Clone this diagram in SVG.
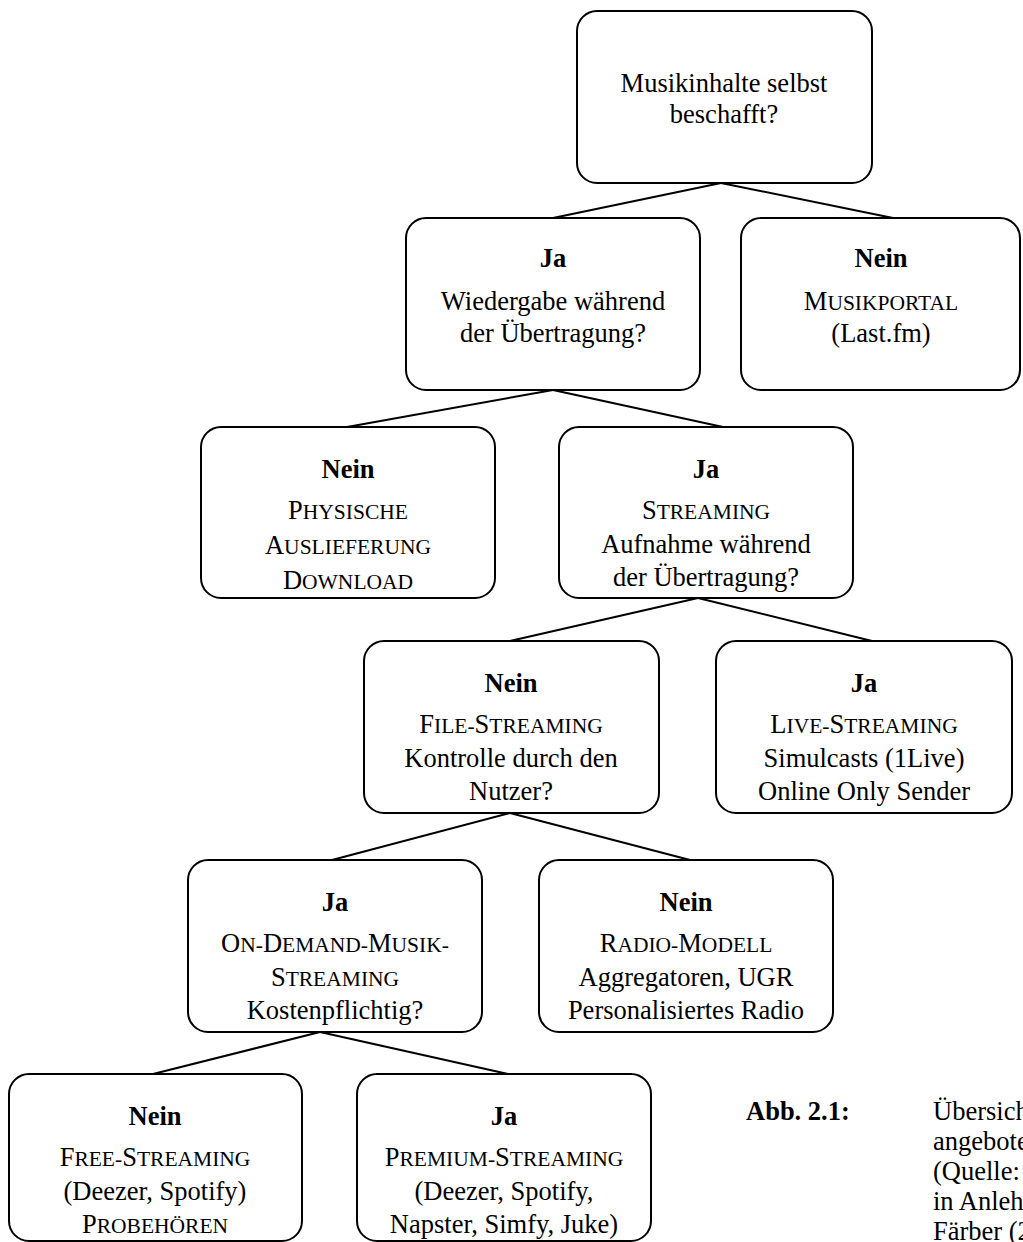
<svg xmlns="http://www.w3.org/2000/svg" width="1023" height="1242" viewBox="0 0 1023 1242">
<style>
.box{fill:#fff;stroke:#000;stroke-width:2}
.con line{stroke:#000;stroke-width:2}
text{font-family:"Liberation Serif","Times New Roman",serif;font-size:26.5px;fill:#000}
.c{text-anchor:middle}
.b{font-weight:bold}
.sc{font-size:21.5px}
</style>
<rect width="1023" height="1242" fill="#fff"/>
<g id="connectors" class="con">
<line x1="721" y1="183" x2="553" y2="218"/>
<line x1="721" y1="183" x2="893" y2="218"/>
<line x1="553" y1="390" x2="347" y2="427"/>
<line x1="553" y1="390" x2="723" y2="427"/>
<line x1="698" y1="598" x2="510" y2="641"/>
<line x1="698" y1="598" x2="872" y2="641"/>
<line x1="510" y1="813" x2="332" y2="860"/>
<line x1="510" y1="813" x2="690" y2="860"/>
<line x1="320" y1="1032" x2="153" y2="1074"/>
<line x1="320" y1="1032" x2="508" y2="1074"/>
</g>
<g id="n_root">
<rect class="box" x="577" y="11" width="295" height="172" rx="20"/>
<text class="c" x="724" y="92">Musikinhalte selbst</text>
<text class="c" x="724" y="123">beschafft?</text>
</g>
<g id="n_wiedergabe">
<rect class="box" x="406" y="218" width="294" height="172" rx="20"/>
<text class="c b" x="553" y="267">Ja</text>
<text class="c" x="553" y="310">Wiedergabe während</text>
<text class="c" x="553" y="342">der Übertragung?</text>
</g>
<g id="n_musikportal">
<rect class="box" x="741" y="218" width="279" height="172" rx="20"/>
<text class="c b" x="881" y="267">Nein</text>
<text class="c" x="881" y="310">M<tspan class="sc">USIKPORTAL</tspan></text>
<text class="c" x="881" y="342">(Last.fm)</text>
</g>
<g id="n_physisch">
<rect class="box" x="201" y="427" width="294" height="171" rx="20"/>
<text class="c b" x="348" y="478">Nein</text>
<text class="c" x="348" y="519">P<tspan class="sc">HYSISCHE</tspan></text>
<text class="c" x="348" y="554">A<tspan class="sc">USLIEFERUNG</tspan></text>
<text class="c" x="348" y="589">D<tspan class="sc">OWNLOAD</tspan></text>
</g>
<g id="n_streaming">
<rect class="box" x="559" y="427" width="294" height="171" rx="20"/>
<text class="c b" x="706" y="478">Ja</text>
<text class="c" x="706" y="519">S<tspan class="sc">TREAMING</tspan></text>
<text class="c" x="706" y="553">Aufnahme während</text>
<text class="c" x="706" y="586">der Übertragung?</text>
</g>
<g id="n_file">
<rect class="box" x="364" y="641" width="295" height="172" rx="20"/>
<text class="c b" x="511" y="692">Nein</text>
<text class="c" x="511" y="733">F<tspan class="sc">ILE-</tspan>S<tspan class="sc">TREAMING</tspan></text>
<text class="c" x="511" y="767">Kontrolle durch den</text>
<text class="c" x="511" y="800">Nutzer?</text>
</g>
<g id="n_live">
<rect class="box" x="716" y="641" width="296" height="172" rx="20"/>
<text class="c b" x="864" y="692">Ja</text>
<text class="c" x="864" y="733">L<tspan class="sc">IVE-</tspan>S<tspan class="sc">TREAMING</tspan></text>
<text class="c" x="864" y="767">Simulcasts (1Live)</text>
<text class="c" x="864" y="800">Online Only Sender</text>
</g>
<g id="n_ondemand">
<rect class="box" x="188" y="860" width="294" height="172" rx="20"/>
<text class="c b" x="335" y="911">Ja</text>
<text class="c" x="335" y="952">O<tspan class="sc">N-</tspan>D<tspan class="sc">EMAND-</tspan>M<tspan class="sc">USIK-</tspan></text>
<text class="c" x="335" y="986">S<tspan class="sc">TREAMING</tspan></text>
<text class="c" x="335" y="1019">Kostenpflichtig?</text>
</g>
<g id="n_radio">
<rect class="box" x="539" y="860" width="294" height="172" rx="20"/>
<text class="c b" x="686" y="911">Nein</text>
<text class="c" x="686" y="952">R<tspan class="sc">ADIO-</tspan>M<tspan class="sc">ODELL</tspan></text>
<text class="c" x="686" y="986">Aggregatoren, UGR</text>
<text class="c" x="686" y="1019">Personalisiertes Radio</text>
</g>
<g id="n_free">
<rect class="box" x="9" y="1074" width="293" height="167" rx="20"/>
<text class="c b" x="155" y="1125">Nein</text>
<text class="c" x="155" y="1166">F<tspan class="sc">REE-</tspan>S<tspan class="sc">TREAMING</tspan></text>
<text class="c" x="155" y="1200">(Deezer, Spotify)</text>
<text class="c" x="155" y="1233">P<tspan class="sc">ROBEHÖREN</tspan></text>
</g>
<g id="n_premium">
<rect class="box" x="357" y="1074" width="294" height="167" rx="20"/>
<text class="c b" x="504" y="1125">Ja</text>
<text class="c" x="504" y="1166">P<tspan class="sc">REMIUM-</tspan>S<tspan class="sc">TREAMING</tspan></text>
<text class="c" x="504" y="1200">(Deezer, Spotify,</text>
<text class="c" x="504" y="1233">Napster, Simfy, Juke)</text>
</g>
<g id="caption">
<text class="b" x="746" y="1120">Abb. 2.1:</text>
<text x="933" y="1120">Übersich</text>
<text x="933" y="1150">angebote</text>
<text x="933" y="1180">(Quelle:</text>
<text x="933" y="1210">in Anleh</text>
<text x="933" y="1240">Färber (2</text>
</g>
</svg>
